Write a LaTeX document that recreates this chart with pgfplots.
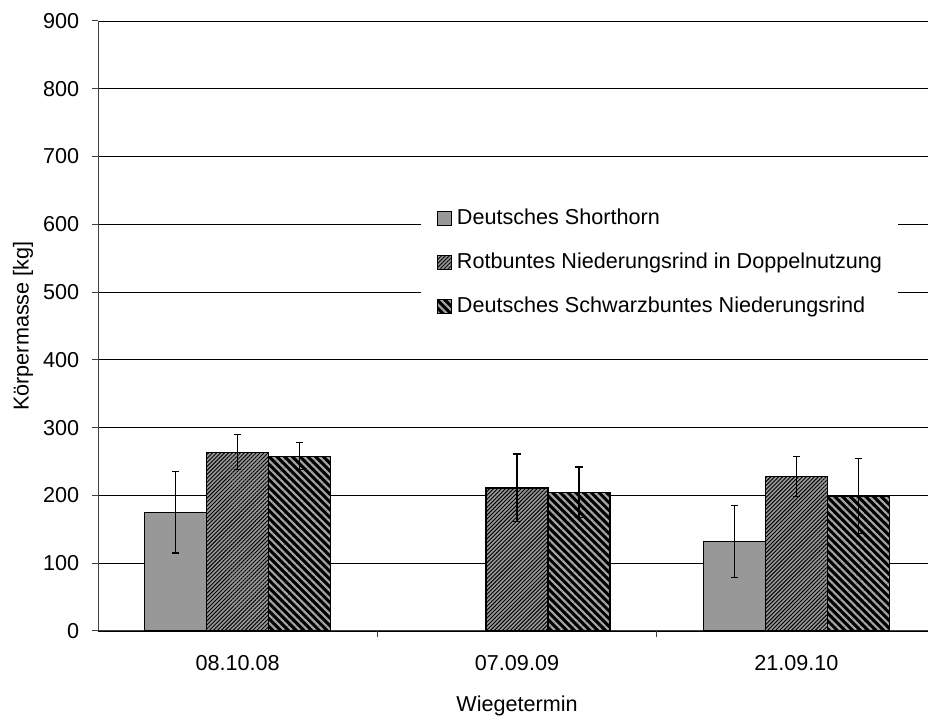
\documentclass[border=0pt]{standalone}
\usepackage{pgfplots}
\pgfplotsset{compat=1.18}
\usepackage{fontspec}
\setmainfont{Liberation Sans}
\usetikzlibrary{patterns.meta}
\definecolor{barGray}{RGB}{152,152,152}
\definecolor{stripeGray}{RGB}{165,165,165}
\newcommand{\chartfont}{\fontsize{16.2pt}{19.4pt}\selectfont}

% Wiegetermin: 0 = 08.10.08, 1 = 07.09.09, 2 = 21.09.10
\pgfplotstableread{
x y err
0 175 60
2 132 53
}\shorthorn
\pgfplotstableread{
x y err
0 264 26
1 211 50
2 228 30
}\rotbunt
\pgfplotstableread{
x y err
0 258 20
1 205 37
2 199 55
}\schwarzbunt

\begin{document}
\chartfont
\begin{tikzpicture}
\path[use as bounding box] (0,0) rectangle (696pt,537.75pt);
\begin{axis}[
    at={(73.5pt,64.5pt)}, anchor=south west,
    scale only axis,
    width=628.5pt, height=457.5pt,
    ybar=0pt, bar width=46.5pt,
    xmin=-0.5, xmax=2.5,
    ymin=0, ymax=900,
    ytick={0,100,...,900},
    xtick={0,1,2},
    xticklabels={08.10.08,07.09.09,21.09.10},
    minor xtick={0.5,1.5},
    major x tick style={draw=none},
    axis x line*=bottom, axis y line*=left,
    axis line style={-, black!75, line width=0.75pt},
    tick style={black!75, line width=0.75pt},
    tick align=outside,
    major tick length=4.5pt, minor tick length=4.5pt,
    ymajorgrids,
    grid style={black, line width=0.6pt},
    /pgf/number format/assume math mode=true,
    every tick label/.append style={font=\chartfont},
    yticklabel style={xshift=-4pt},
    xticklabel style={yshift=-8pt},
    xlabel={Wiegetermin},
    ylabel={Körpermasse [kg]},
    xlabel style={yshift=-8pt},
    ylabel style={yshift=-3.5pt},
    label style={font=\chartfont},
    every axis plot/.append style={draw=black, line width=0.8pt},
    error bars/y dir=both,
    error bars/y explicit,
    error bars/error mark=-,
    error bars/error mark options={black, line width=0.9pt, mark size=2.7pt, rotate=90},
    error bars/error bar style={black, line width=0.9pt},
    legend cell align=left,
    legend image code/.code={
        \path (0pt,0pt) (14pt,0pt);
        \draw[#1, line width=0.6pt] (2.5pt,-5.25pt) rectangle (13pt,5.25pt);},
    legend style={
        at={(rel axis cs:0.3854,0.706)}, anchor=north west,
        draw=none, fill=white,
        inner xsep=9pt, inner ysep=6pt,
        row sep=18pt,
        font=\chartfont,
        nodes={inner xsep=3pt, inner ysep=0pt, text height=11.6pt, text depth=3.4pt},
    },
]
\addplot[fill=barGray] table[x=x, y=y, y error=err] {\shorthorn};
\addplot[fill=barGray,
    postaction={pattern={Lines[angle=45,distance=2.1pt,line width=0.7pt]}, pattern color=black}]
    table[x=x, y=y, y error=err] {\rotbunt};
\addplot[fill=black,
    postaction={pattern={Lines[angle=-45,distance=4.1pt,line width=1.6pt]}, pattern color=stripeGray}]
    table[x=x, y=y, y error=err] {\schwarzbunt};
\legend{Deutsches Shorthorn, Rotbuntes Niederungsrind in Doppelnutzung, Deutsches Schwarzbuntes Niederungsrind}
\end{axis}
\end{tikzpicture}
\end{document}
